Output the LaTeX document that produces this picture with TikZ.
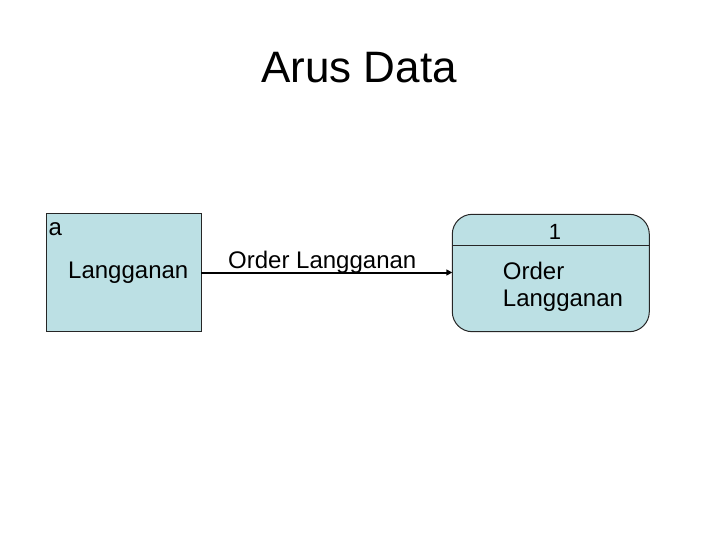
\documentclass[tikz,border=0pt]{standalone}
\usepackage{fontspec}
\setmainfont{Liberation Sans}
\usetikzlibrary{arrows.meta}
\definecolor{boxfill}{RGB}{188,224,228}
\begin{document}
\begin{tikzpicture}[x=1pt,y=-1pt,
  lbl/.style={inner sep=0pt,anchor=base west,font=\fontsize{24}{28}\selectfont},
  boxstyle/.style={draw=black!85,fill=boxfill,line width=1pt}]
\useasboundingbox (0,0) rectangle (720,540);
\node[inner sep=0pt,anchor=base,font=\fontsize{44}{50}\selectfont] (title) at (359,82.7) {Arus Data};
% external entity
\draw[boxstyle] (46,213.3) rectangle (201,331.7);
\coordinate (entE) at (201,272.5);
\node[inner sep=0pt,anchor=base west,font=\fontsize{24}{28}\selectfont] (enta) at (48.5,236) {a};
\node[lbl] (entname) at (68,278) {Langganan};
% process
\draw[boxstyle,rounded corners=20pt] (452.3,214.3) rectangle (649.3,331.7);
\draw[black!85,line width=1pt] (452.3,245.7) -- (649.3,245.7);
\coordinate (procW) at (452.3,272.5);
\node[inner sep=0pt,anchor=base,font=\fontsize{22}{26}\selectfont] (procnum) at (555,240) {1};
\node[lbl] (proc1) at (502.7,279) {Order};
\node[lbl] (proc2) at (502.7,306.7) {Langganan};
% data flow
\draw[line width=2pt,-{Triangle[length=6pt,width=6pt]}] (entE) -- (procW);
\node[lbl] (flow) at (228,268.3) {Order Langganan};
\end{tikzpicture}
\end{document}
